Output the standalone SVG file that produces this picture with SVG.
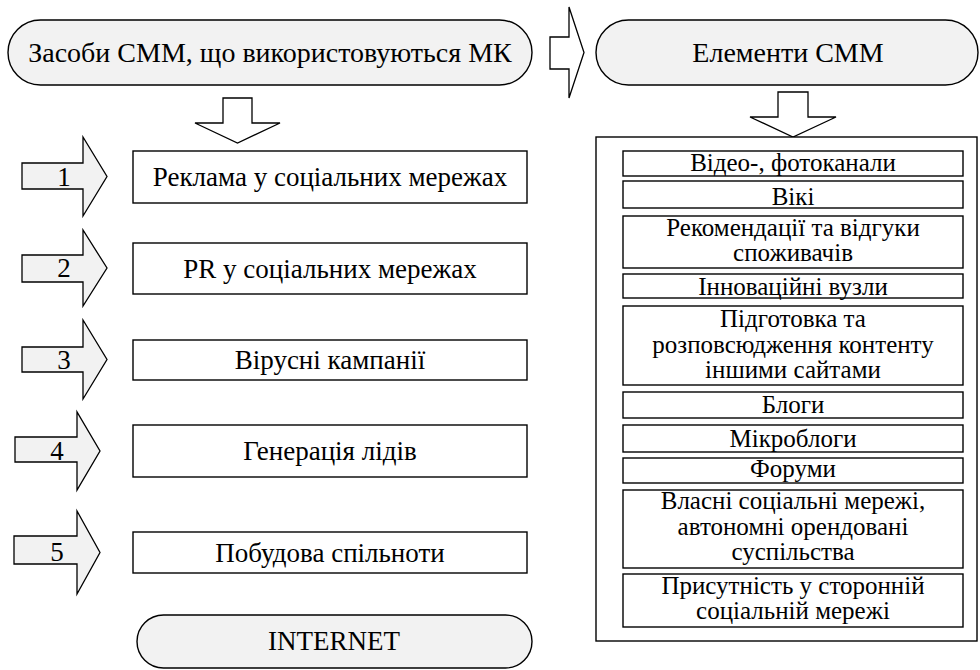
<svg xmlns="http://www.w3.org/2000/svg" width="980" height="670" viewBox="0 0 980 670">
<style>
.pill{fill:#f2f2f2;stroke:#000;stroke-width:1.4}
.arr{fill:#f2f2f2;stroke:#000;stroke-width:1.3}
.harr{fill:#fff;stroke:#000;stroke-width:1.3}
.box{fill:#fff;stroke:#000;stroke-width:1.4}
text{font-family:"Liberation Serif","Tinos","Noto Serif","DejaVu Serif","FreeSerif","Times New Roman","PT Serif",serif;fill:#000;text-anchor:middle}
.t28{font-size:28px}
.t27{font-size:27px}
.t25{font-size:25px}
</style>
<rect width="980" height="670" fill="#fff"/>
<g id="connectors">
<path class="harr" d="M550,37 H569 V7 L584,52.5 L569,98 V69 H550 Z"/>
<path class="harr" d="M223,98 H252 V123 H280 L237.5,143 L195,123 H223 Z"/>
<path class="harr" d="M778,92 H808 V117 H836 L793,137 L750,117 H778 Z"/>
</g>
<g id="node-sredstva">
<rect class="pill" x="8" y="20" width="524" height="65" rx="32.5"/>
<text class="t28" x="270" y="62">Засоби СММ, що використовуються МК</text>
</g>
<g id="node-elementy">
<rect class="pill" x="596" y="20" width="382" height="65" rx="32.5"/>
<text class="t28" x="788" y="62">Елементи СММ</text>
</g>
<g id="arrow-1">
<path class="arr" d="M22,163 H83 V137 L107,176.5 L83,216 V189 H22 Z"/>
<text class="t27" x="64" y="186">1</text>
</g>
<g id="arrow-2">
<path class="arr" d="M22,255 H83 V230 L107,268 L83,306 V282 H22 Z"/>
<text class="t27" x="64" y="277">2</text>
</g>
<g id="arrow-3">
<path class="arr" d="M22,347 H83 V320 L107,359.5 L83,399 V372 H22 Z"/>
<text class="t27" x="64" y="369">3</text>
</g>
<g id="arrow-4">
<path class="arr" d="M15,437 H77 V412 L100,451 L77,490 V462 H15 Z"/>
<text class="t27" x="57" y="460">4</text>
</g>
<g id="arrow-5">
<path class="arr" d="M14,536 H77 V511 L100,552.5 L77,594 V564 H14 Z"/>
<text class="t27" x="57" y="561">5</text>
</g>
<g id="node-reklama">
<rect class="box" x="133" y="151" width="394" height="52"/>
<text class="t27" x="330" y="186">Реклама у соціальних мережах</text>
</g>
<g id="node-pr">
<rect class="box" x="133" y="243" width="394" height="51"/>
<text class="t27" x="330" y="278">PR у соціальних мережах</text>
</g>
<g id="node-virusni">
<rect class="box" x="133" y="340" width="394" height="40"/>
<text class="t27" x="330" y="369">Вірусні кампанії</text>
</g>
<g id="node-generatsiya">
<rect class="box" x="133" y="425" width="394" height="52"/>
<text class="t27" x="330" y="460">Генерація лідів</text>
</g>
<g id="node-pobudova">
<rect class="box" x="133" y="532" width="394" height="41"/>
<text class="t27" x="330" y="562">Побудова спільноти</text>
</g>
<g id="node-internet">
<rect class="pill" x="137" y="615" width="395" height="53" rx="26.5"/>
<text class="t27" x="334" y="650">INTERNET</text>
</g>
<g id="node-elements-list">
<rect class="box" x="596" y="137" width="381" height="504"/>
</g>
<g id="el-video">
<rect class="box" x="623" y="151" width="340" height="25"/>
<text class="t25" x="793" y="171">Відео-, фотоканали</text>
</g>
<g id="el-viki">
<rect class="box" x="623" y="181" width="340" height="27"/>
<text class="t25" x="793" y="205">Вікі</text>
</g>
<g id="el-rekomendatsii">
<rect class="box" x="623" y="216" width="340" height="52"/>
<text class="t25" x="793" y="236">Рекомендації та відгуки</text>
<text class="t25" x="793" y="261">споживачів</text>
</g>
<g id="el-innovatsii">
<rect class="box" x="623" y="274" width="340" height="24"/>
<text class="t25" x="793" y="295">Інноваційні вузли</text>
</g>
<g id="el-pidgotovka">
<rect class="box" x="623" y="306" width="340" height="79"/>
<text class="t25" x="793" y="327">Підготовка та</text>
<text class="t25" x="793" y="353">розповсюдження контенту</text>
<text class="t25" x="793" y="378">іншими сайтами</text>
</g>
<g id="el-blogy">
<rect class="box" x="623" y="392" width="340" height="26"/>
<text class="t25" x="793" y="413">Блоги</text>
</g>
<g id="el-mikroblogy">
<rect class="box" x="623" y="425" width="340" height="27"/>
<text class="t25" x="793" y="447">Мікроблоги</text>
</g>
<g id="el-forumy">
<rect class="box" x="623" y="458" width="340" height="25"/>
<text class="t25" x="793" y="477">Форуми</text>
</g>
<g id="el-vlasni">
<rect class="box" x="623" y="490" width="340" height="78"/>
<text class="t25" x="793" y="509">Власні соціальні мережі,</text>
<text class="t25" x="793" y="535">автономні орендовані</text>
<text class="t25" x="793" y="560">суспільства</text>
</g>
<g id="el-prysutnist">
<rect class="box" x="623" y="574" width="340" height="53"/>
<text class="t25" x="793" y="594">Присутність у сторонній</text>
<text class="t25" x="793" y="619">соціальній мережі</text>
</g>
</svg>
